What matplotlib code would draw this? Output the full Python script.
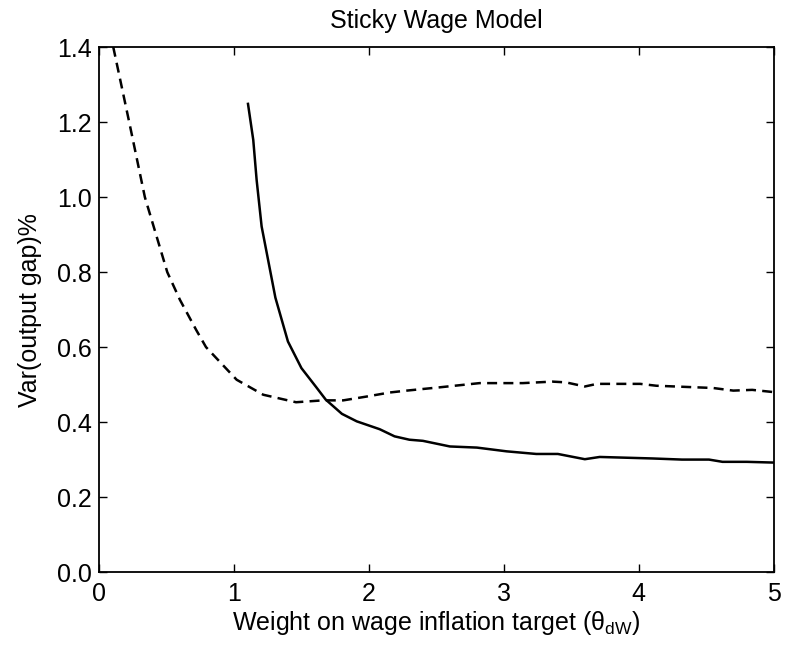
import numpy as np
import matplotlib.pyplot as plt

plt.rcParams['font.family'] = ['Liberation Sans', 'DejaVu Sans']
plt.rcParams['mathtext.fontset'] = 'custom'
plt.rcParams['mathtext.rm'] = 'Liberation Sans'
plt.rcParams['mathtext.it'] = 'Liberation Sans'

# dashed series
x_dash = [0.0, 0.106, 0.224, 0.34, 0.506, 0.6, 0.72, 0.793, 1.02, 1.217, 1.46, 1.66,
          1.81, 1.98, 2.155, 2.28, 2.53, 2.82, 3.14, 3.36, 3.46, 3.60, 3.69, 4.01,
          4.13, 4.55, 4.70, 4.84, 5.0]
y_dash = [1.60, 1.40, 1.20, 1.00, 0.80, 0.726, 0.646, 0.60, 0.513, 0.473, 0.453, 0.458,
          0.458, 0.468, 0.479, 0.484, 0.493, 0.504, 0.504, 0.508, 0.506, 0.495, 0.502, 0.502,
          0.497, 0.491, 0.484, 0.486, 0.48]

# solid series
x_solid = [1.104, 1.143, 1.168, 1.205, 1.307, 1.40, 1.50, 1.61, 1.68, 1.80, 1.91, 2.08,
           2.19, 2.30, 2.40, 2.60, 2.80, 3.02, 3.24, 3.40, 3.60, 3.71, 4.10, 4.32,
           4.52, 4.62, 4.80, 5.0]
y_solid = [1.249, 1.153, 1.046, 0.922, 0.732, 0.615, 0.544, 0.493, 0.46, 0.422, 0.402, 0.381,
           0.362, 0.353, 0.35, 0.335, 0.332, 0.322, 0.315, 0.315, 0.301, 0.307, 0.303, 0.30,
           0.30, 0.294, 0.294, 0.292]

xticks = [0, 1, 2, 3, 4, 5]
yticks = [0.0, 0.2, 0.4, 0.6, 0.8, 1.0, 1.2, 1.4]

fig = plt.figure(figsize=(7.92, 6.53), dpi=100)
ax = fig.add_axes([0.125, 0.124, 0.852, 0.8036])

ax.plot(x_dash, y_dash, 'k--', lw=1.8, dashes=(4, 2.5))
ax.plot(x_solid, y_solid, 'k-', lw=1.8)

ax.set_xlim(0, 5)
ax.set_ylim(0, 1.4)
ax.set_xticks(xticks)
ax.set_yticks(yticks)
ax.set_yticklabels(['%.1f' % v for v in yticks])
ax.tick_params(direction='in', length=6, width=1, labelsize=18, top=True, right=True)
ax.tick_params(axis='y', pad=5)
ax.tick_params(axis='x', pad=7)
for s in ax.spines.values():
    s.set_linewidth(1.3)

ax.set_title('Sticky Wage Model', fontsize=18, pad=14)
ax.set_xlabel(r'Weight on wage inflation target ($\theta_{\mathrm{dW}}$)', fontsize=18, labelpad=2)
ax.set_ylabel('Var(output gap)%', fontsize=18, labelpad=11)

fig.savefig('out.png', dpi=100)
